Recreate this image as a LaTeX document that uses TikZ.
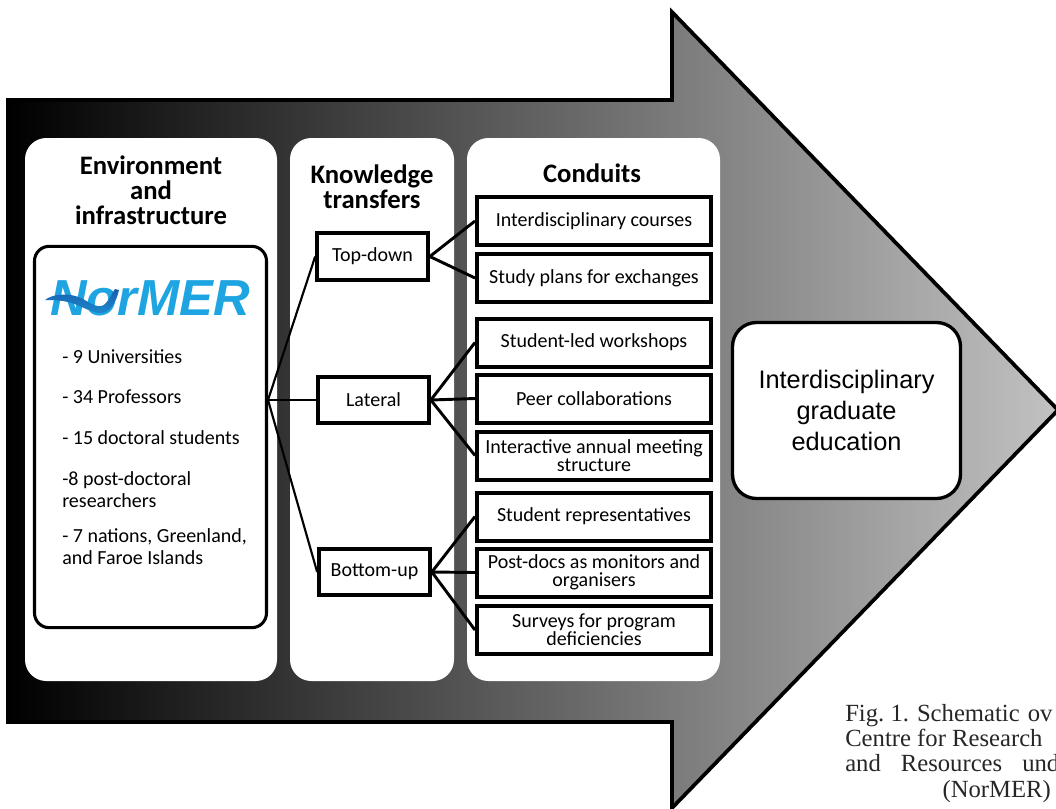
\documentclass[tikz,border=0pt]{standalone}
\usepackage{fontspec}
\newfontfamily\carlito{Carlito}
\newfontfamily\arial{Liberation Sans}
\newfontfamily\capserif{Liberation Serif}
\usetikzlibrary{positioning}

\definecolor{logoblue}{RGB}{30,165,225}
\definecolor{wavedark}{RGB}{25,95,175}

\begin{document}
\begin{tikzpicture}[
	x=0.75pt, y=-0.75pt,
	panel/.style={fill=white, rounded corners=16pt},
	head/.style={font=\carlito\bfseries\fontsize{20}{18.75}\selectfont, align=center},
	box/.style={
		draw, line width=3pt, fill=white, align=center, inner sep=1pt,
		font=\carlito\fontsize{15}{13.8}\selectfont,
	},
	transfer/.style={box, minimum width=83pt, minimum height=35pt},
	conduit/.style={box, minimum width=175.5pt, minimum height=36pt},
	link/.style={line width=2.2pt},
]
\useasboundingbox (0,0) rectangle (1056,808);

% big arrow
\draw[line width=2.8pt, left color=black, right color=black!24]
	(8,100) -- (672,100) -- (672,12) -- (1058,410) -- (672,808) -- (672,722) -- (8,722) -- cycle;

% columns
\fill[panel] (25,138) rectangle (277,681);
\fill[panel] (290,138) rectangle (454,681);
\fill[panel] (467,138) rectangle (720,681);

\node[head] (envhead) at (151,190) {Environment\\and\\infrastructure};
\node[head] (kthead) at (372,187) {Knowledge\\transfers};
\node[head, anchor=base] (conhead) at (592,182) {Conduits};

% environment
\node[draw, line width=2.3pt, rounded corners=11pt, fill=white,
	minimum width=174pt, minimum height=286pt] (env) at (150.5,437) {};
\node[font=\arial\bfseries\itshape\fontsize{38}{38}\selectfont, text=logoblue,
	anchor=base, inner sep=0pt] (logo) at (150,315) {NorMER};
\shade[top color=wavedark, bottom color=logoblue!60!wavedark]
	(45,300) .. controls (52,294) and (70,292) .. (83,299)
	.. controls (92,304) and (100,310) .. (106,303)
	.. controls (110,299) and (112,293) .. (115,289) -- (119,290)
	.. controls (116,303) and (110,313) .. (100,313)
	.. controls (90,313) and (78,303) .. (63,301)
	.. controls (55,300) and (50,300) .. (45,300) -- cycle;
\node[anchor=north west, align=left, inner sep=0pt,
	font=\carlito\fontsize{15}{16.5}\selectfont] (facts) at (62,349)
	{- 9 Universities\\[14pt]
	 - 34 Professors\\[14pt]
	 - 15 doctoral students\\[14pt]
	 -8 post-doctoral\\researchers\\[10pt]
	 - 7 nations, Greenland,\\and Faroe Islands};

% knowledge transfers
\node[transfer] (td) at (372.5,256.5) {Top-down};
\node[transfer] (lat) at (373.5,400) {Lateral};
\node[transfer] (bu) at (374.5,572) {Bottom-up};

% conduits
\node[conduit] (c1) at (594,221) {Interdisciplinary courses};
\node[conduit] (c2) at (594,278) {Study plans for exchanges};
\node[conduit] (c3) at (594,342.5) {Student-led workshops};
\node[conduit] (c4) at (594,398.5) {Peer collaborations};
\node[conduit] (c5) at (594,455.5) {Interactive annual meeting\\structure};
\node[conduit] (c6) at (594,516.5) {Student representatives};
\node[conduit] (c7) at (594,572.5) {Post-docs as monitors and\\organisers};
\node[conduit] (c8) at (594,630) {Surveys for program\\deficiencies};

\node[draw, line width=2.5pt, rounded corners=18pt, fill=white,
	minimum width=171pt, minimum height=132pt, align=center,
	font=\arial\fontsize{19}{23}\selectfont] (goal) at (846.5,410.5)
	{Interdisciplinary\\graduate\\education};

\draw[line width=1.6pt] (env.east |- lat.west) -- (td.west);
\draw[line width=1.6pt] (env.east |- lat.west) -- (lat.west);
\draw[line width=1.6pt] (env.east |- lat.west) -- (bu.west);
\draw[link] (td.east) -- (c1.west);
\draw[link] (td.east) -- (c2.west);
\draw[link] (lat.east) -- (c3.west);
\draw[link] (lat.east) -- (c4.west);
\draw[link] (lat.east) -- (c5.west);
\draw[link] (bu.east) -- (c6.west);
\draw[link] (bu.east) -- (c7.west);
\draw[link] (bu.east) -- (c8.west);

% caption
\node[anchor=base west, align=left, inner sep=0pt, text=black!85,
	font=\capserif\fontsize{18.5}{19}\selectfont] (caption) at (845,797)
	{Fig.~1.\hspace{6pt}Schematic\hspace{6pt}ov\\
	 Centre for Research\\
	 and\hspace{15pt}Resources\hspace{15pt}und\\
	 \hspace{73pt}(NorMER)};
\end{tikzpicture}
\end{document}
